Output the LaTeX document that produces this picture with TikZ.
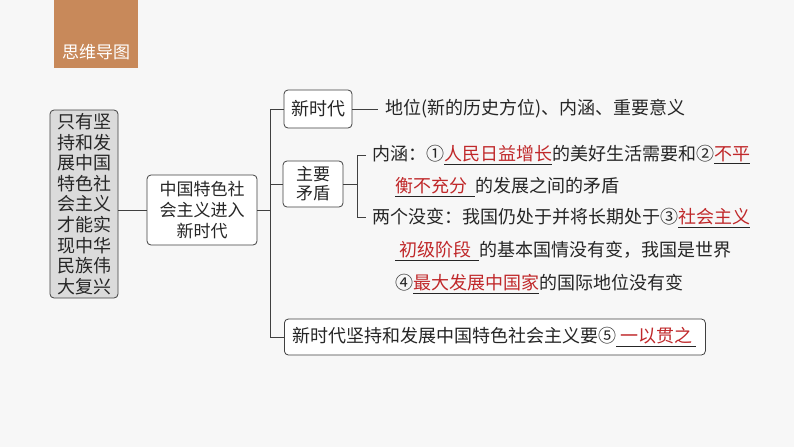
\documentclass[tikz,border=0pt]{standalone}
\usepackage{fontspec}
\setmainfont{Noto Sans CJK SC}
\definecolor{tabc}{HTML}{C8895A}
\definecolor{redc}{HTML}{C0282A}
\definecolor{linec}{HTML}{404040}
\newcommand{\blk}[1]{\underline{\textcolor{redc}{#1}}}
\begin{document}
\begin{tikzpicture}[x=1pt,y=-1pt,
  box/.style={draw=linec,line width=0.8pt,rounded corners=4pt,fill=white,inner sep=3pt,align=center},
  txt/.style={anchor=west,inner sep=0pt},
  conn/.style={draw=linec,line width=0.8pt},
  every node/.style={font=\fontsize{18}{22}\selectfont,text=black!85}]
\fill[black!3] (0,0) rectangle (794,447);
\useasboundingbox (0,0) rectangle (794,447);
\fill[tabc] (54,0) rectangle (138,68);
\node[text=white,font=\fontsize{17}{20}\selectfont] (tab) at (96,52) {思维导图};
\node[box,fill=black!14,minimum width=68,minimum height=188,font=\fontsize{18}{20.6}\selectfont,inner sep=1pt] (left) at (84,204)
 {只有坚\\持和发\\展中国\\特色社\\会主义\\才能实\\现中华\\民族伟\\大复兴};
\node[box,minimum width=110,minimum height=70,font=\fontsize{17}{21}\selectfont] (mid) at (202,210) {中国特色社\\会主义进入\\新时代};
\coordinate (tr) at (270,210);
\coordinate (ttop) at (270,109);
\coordinate (tbot) at (270,337);
\draw[conn] (left.east|-mid.west) -- (mid.west);
\draw[conn] (mid.east) -- (tr);
\draw[conn] (ttop) -- (tbot);
\node[box,minimum width=68,minimum height=38] (xsd) at (318,109) {新时代};
\node[box,minimum width=60,minimum height=46,font=\fontsize{17}{19}\selectfont] (zy) at (313,184) {主要\\矛盾};
\node[box,minimum width=421,minimum height=36,anchor=west] (bot) at (284,337) {};
\node[txt] (botxt) at (292,337) {新时代坚持和发展中国特色社会主义要⑤\blk{\ 一以贯之\ }};
\draw[conn] (ttop) -- (xsd.west);
\draw[conn] (ttop|-zy.west) -- (zy.west);
\draw[conn] (tbot) -- (bot.west);
\coordinate (dw) at (378,109);
\draw[conn] (xsd.east) -- (dw);
\node[txt] (dwt) at (385,109) {地位(新的历史方位)、内涵、重要意义};
\coordinate (b) at (357,184);
\coordinate (bt) at (357,155);
\coordinate (bb) at (357,217);
\coordinate (bte) at (366,155);
\coordinate (bbe) at (366,217);
\draw[conn] (zy.east) -- (b);
\draw[conn] (bte) -- (bt) -- (bb) -- (bbe);
\node[txt] (l1) at (372,155) {内涵：①\blk{人民日益增长}的美好生活需要和②\blk{不平}};
\node[txt] (l2) at (395,187) {\blk{衡不充分\ \ }的发展之间的矛盾};
\node[txt] (l3) at (372,218) {两个没变：我国仍处于并将长期处于③\blk{社会主义}};
\node[txt] (l4) at (395,251) {\blk{\ 初级阶段\ \ }的基本国情没有变，我国是世界};
\node[txt] (l5) at (395,284) {④\blk{最大发展中国家}的国际地位没有变};
\end{tikzpicture}
\end{document}
